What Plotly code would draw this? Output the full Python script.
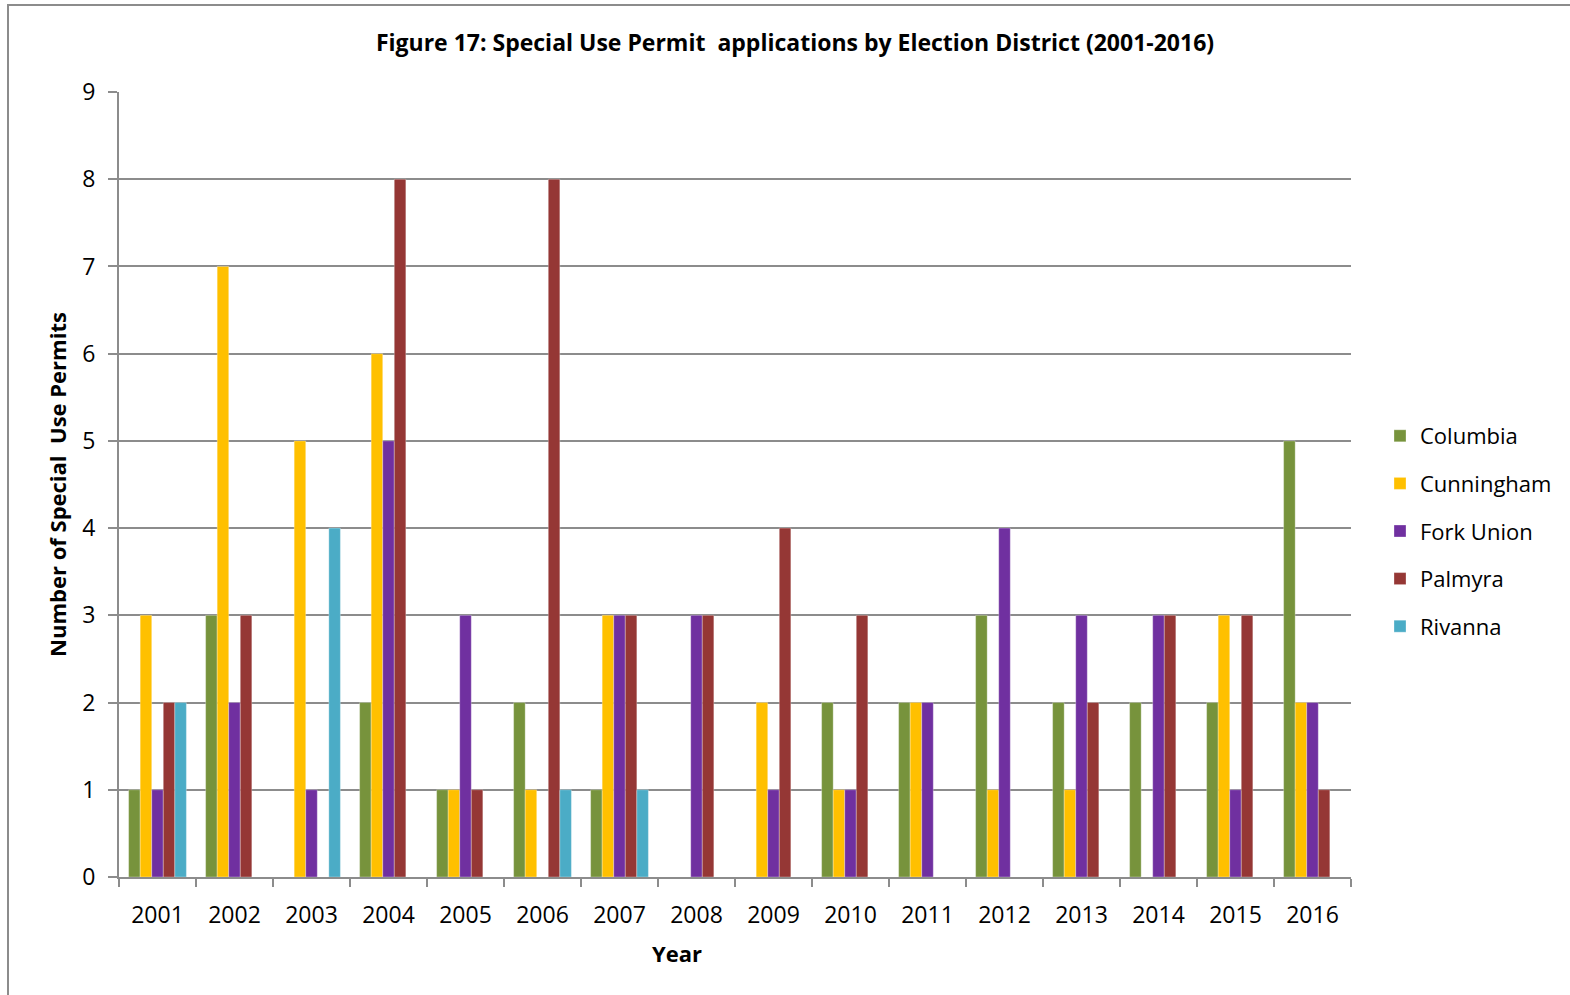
import plotly.graph_objects as go

# Special Use Permit applications per election district, 2001-2016
years = [str(y) for y in range(2001, 2017)]
columbia = [1, 3, 0, 2, 1, 2, 1, 0, 0, 2, 2, 3, 2, 2, 2, 5]
cunningham = [3, 7, 5, 6, 1, 1, 3, 0, 2, 1, 2, 1, 1, 0, 3, 2]
fork_union = [1, 2, 1, 5, 3, 0, 3, 3, 1, 1, 2, 4, 3, 3, 1, 2]
palmyra = [2, 3, 0, 8, 1, 8, 3, 3, 4, 3, 0, 0, 2, 3, 3, 1]
rivanna = [2, 0, 4, 0, 0, 1, 1, 0, 0, 0, 0, 0, 0, 0, 0, 0]

series = [
    ("Columbia", columbia, "#77933C"),
    ("Cunningham", cunningham, "#FFC000"),
    ("Fork Union", fork_union, "#7030A0"),
    ("Palmyra", palmyra, "#953735"),
    ("Rivanna", rivanna, "#4BACC6"),
]

FONT = "'Open Sans', sans-serif"
GRID = "#8C8C8C"

fig = go.Figure()
for name, vals, color in series:
    fig.add_trace(go.Bar(
        x=years, y=vals, name=name, legendgroup=name,
        marker=dict(color=color, line=dict(color="rgba(255,255,255,0.5)", width=0.6)),
    ))

W, H = 1570, 995
L, R, T, B = 119, 1351, 92, 877
pw, ph = R - L, B - T

def px_x(p):
    return (p - L) / pw

def px_y(p):
    return (B - p) / ph

fig.update_layout(
    width=W, height=H,
    margin=dict(l=L, r=W - R, t=T, b=H - B, pad=0),
    paper_bgcolor="white", plot_bgcolor="white",
    barmode="group", bargap=0.25, bargroupgap=0,
    font=dict(family=FONT, size=22, color="#000000"),
    title=dict(
        text="<b>Figure 17: Special Use Permit  applications by Election District (2001-2016)</b>",
        x=px_x(795), xref="paper", xanchor="center",
        y=1 - 43 / H, yanchor="middle",
        font=dict(family=FONT, size=23, color="#000000"),
    ),
    xaxis=dict(
        type="category", showgrid=False, tickson="boundaries",
        ticks="outside", ticklen=8, tickwidth=2, tickcolor=GRID,
        showline=True, linecolor=GRID, linewidth=2,
        tickfont=dict(size=23), ticklabelstandoff=16,
    ),
    yaxis=dict(
        range=[0, 9], dtick=1, showgrid=True, gridcolor=GRID, gridwidth=2,
        ticks="outside", ticklen=9, tickwidth=2, tickcolor=GRID,
        showline=True, linecolor=GRID, linewidth=2, zeroline=False,
        tickfont=dict(size=23), ticklabelstandoff=8,
        title=dict(text="<b>Number of Special  Use Permits</b>", font=dict(size=22), standoff=10),
    ),
    legend=dict(
        x=px_x(1380), xanchor="left", y=px_y(415), yanchor="top",
        font=dict(size=22), traceorder="grouped", tracegroupgap=16,
        itemwidth=30, bgcolor="rgba(0,0,0,0)",
    ),
    annotations=[dict(
        text="<b>Year</b>", xref="paper", yref="paper",
        x=px_x(677), y=px_y(953), xanchor="center", yanchor="middle",
        showarrow=False, font=dict(size=22),
    )],
    shapes=[dict(
        type="rect", xref="paper", yref="paper",
        x0=px_x(8), x1=px_x(1585), y0=px_y(1010), y1=px_y(5),
        line=dict(color="#8C8C8C", width=2), fillcolor="rgba(0,0,0,0)", layer="below",
    )],
)

fig.write_html("out.html")
